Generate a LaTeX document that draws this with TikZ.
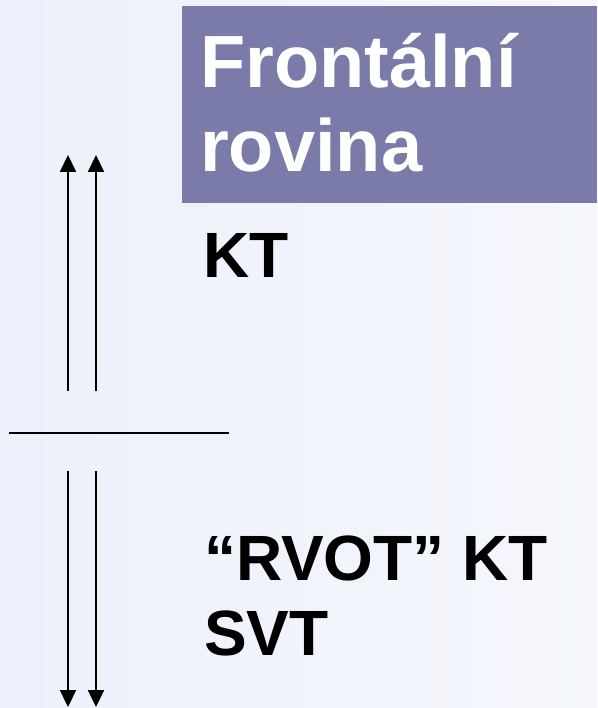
\documentclass[tikz,border=0pt]{standalone}
\usepackage{fontspec}
\setmainfont{Liberation Sans}
\usetikzlibrary{arrows.meta}
\definecolor{bgA}{RGB}{236,240,250}
\definecolor{bgB}{RGB}{245,247,252}
\definecolor{boxc}{RGB}{122,123,168}
\begin{document}
\begin{tikzpicture}[x=1pt,y=-1pt,
  conn/.style={line width=2.2pt, -{Triangle[length=17pt,width=16pt]}},
  plain/.style={line width=2.2pt},
  ttl/.style={anchor=base west, inner sep=0pt, text=white, font=\fontsize{74}{84}\selectfont\bfseries},
  body/.style={anchor=base west, inner sep=0pt, text=black, font=\fontsize{64}{75}\selectfont\bfseries}]
\useasboundingbox (0,0) rectangle (597,708);
\shade[left color=bgA, right color=bgB] (0,0) rectangle (597,708);
\fill[boxc] (182,6) rectangle (597,203);
\node[ttl] (t1) at (200,88) {Frontální};
\node[ttl] (t2) at (200,172) {rovina};
\node[body] (kt) at (203,277) {KT};
\node[body] (rvot) at (204,580) {“RVOT” KT};
\node[body] (svt) at (204,655) {SVT};
% arrows
\coordinate (a1s) at (68,391);
\coordinate (a1e) at (68,155);
\coordinate (a2s) at (96,391);
\coordinate (a2e) at (96,155);
\coordinate (b1s) at (68,471);
\coordinate (b1e) at (68,707);
\coordinate (b2s) at (96,471);
\coordinate (b2e) at (96,707);
\coordinate (hl) at (9,433);
\coordinate (hr) at (229,433);
\draw[conn] (a1s) -- (a1e);
\draw[conn] (a2s) -- (a2e);
\draw[conn] (b1s) -- (b1e);
\draw[conn] (b2s) -- (b2e);
\draw[plain] (hl) -- (hr);
\end{tikzpicture}
\end{document}
